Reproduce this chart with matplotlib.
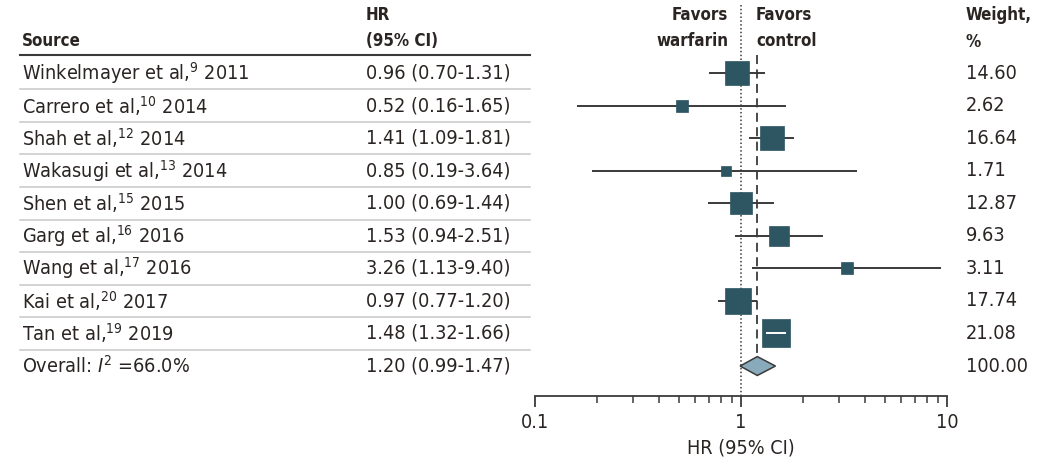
import matplotlib
matplotlib.use("Agg")
import matplotlib.pyplot as plt
import matplotlib.transforms as mtransforms
from matplotlib import font_manager
import numpy as np

# ---------------- data ----------------
sources = [r"Winkelmayer et al,$^{9}$ 2011", r"Carrero et al,$^{10}$ 2014",
           r"Shah et al,$^{12}$ 2014", r"Wakasugi et al,$^{13}$ 2014",
           r"Shen et al,$^{15}$ 2015", r"Garg et al,$^{16}$ 2016",
           r"Wang et al,$^{17}$ 2016", r"Kai et al,$^{20}$ 2017",
           r"Tan et al,$^{19}$ 2019"]
hr = [0.96, 0.52, 1.41, 0.85, 1.00, 1.53, 3.26, 0.97, 1.48]
lo = [0.70, 0.16, 1.09, 0.19, 0.69, 0.94, 1.13, 0.77, 1.32]
hi = [1.31, 1.65, 1.81, 3.64, 1.44, 2.51, 9.40, 1.20, 1.66]
weights = [14.60, 2.62, 16.64, 1.71, 12.87, 9.63, 3.11, 17.74, 21.08]
overall_label = r"Overall: $\mathit{I}^{2}$ =66.0%"
overall_hr, overall_lo, overall_hi = 1.20, 0.99, 1.47
overall_weight = 100.00
xticks = [0.1, 1, 10]
xticklabels = ["0.1", "1", "10"]

# ---------------- fonts ----------------
names = {f.name for f in font_manager.fontManager.ttflist}
STRETCH = "normal"
if "Liberation Sans Narrow" in names:
    FAM, FS, FSB = "Liberation Sans Narrow", 15, 15
else:
    FAM, FS, FSB = "DejaVu Sans", 13, 11.5
    cond = [f for f in font_manager.fontManager.ttflist
            if f.name == "DejaVu Sans" and "Condensed" in f.fname]
    if cond:
        STRETCH, FS, FSB = "condensed", 14.2, 12.2
plt.rcParams["font.family"] = [FAM, "DejaVu Sans"]
plt.rcParams["font.stretch"] = STRETCH
plt.rcParams["mathtext.fontset"] = "custom"
plt.rcParams["mathtext.rm"] = FAM
plt.rcParams["mathtext.it"] = FAM + ":italic"
plt.rcParams["mathtext.bf"] = FAM + ":bold"

TXT = "#2a2523"
SQ = "#2d5562"
DIA = "#88aabb"
LINE = "#3a3a3a"

W, H = 1053, 465
fig = plt.figure(figsize=(W / 100, H / 100), dpi=100)
x0, x1 = 535, 947
ybot = 396
ax = fig.add_axes([x0 / W, 1 - ybot / H, (x1 - x0) / W, ybot / H])
ax.set_xscale("log")
ax.set_xlim(0.1, 10)
row0, dy = 73, 32.56
top_d = -row0 / dy
bot_d = (ybot - row0) / dy
ax.set_ylim(bot_d, top_d)
for s in ["top", "left", "right"]:
    ax.spines[s].set_visible(False)
ax.spines["bottom"].set_color(LINE)
ax.spines["bottom"].set_linewidth(1.3)
ax.set_yticks([])
ax.set_xticks(xticks)
ax.set_xticklabels(xticklabels)
ax.xaxis.set_minor_locator(matplotlib.ticker.LogLocator(base=10, subs=np.arange(2, 10)))
ax.xaxis.set_minor_formatter(matplotlib.ticker.NullFormatter())
ax.tick_params(axis="x", which="major", length=8, width=1.3, color=LINE,
               labelsize=FS, labelcolor=TXT, pad=4)
ax.tick_params(axis="x", which="minor", length=5, width=1.1, color=LINE)
ax.set_xlabel("HR (95% CI)", fontsize=FS, color=TXT, labelpad=5)
ax.patch.set_visible(False)

n = len(sources)
ys = np.arange(n)
oy = n

# reference lines
ax.plot([1, 1], [top_d + 5 / dy, bot_d], ls=(0, (1, 1.5)), color=LINE, lw=1.1,
        clip_on=False, zorder=1)
ax.plot([overall_hr, overall_hr], [top_d + 55 / dy, oy - 0.3], ls=(0, (5, 3)),
        color=LINE, lw=1.3, zorder=1)

# CIs and squares
px_per_pt = 100 / 72
for i in range(n):
    ax.plot([lo[i], hi[i]], [ys[i], ys[i]], color=LINE, lw=1.4, zorder=2,
            solid_capstyle="butt")
    side_px = 3.2 + 5.2 * np.sqrt(weights[i])
    ax.plot([hr[i]], [ys[i]], marker="s", ms=side_px / px_per_pt, color=SQ,
            mec=SQ, mew=0.5, zorder=3)
    cx = ax.transData.transform((hr[i], 0))[0]
    lx = ax.transData.transform((lo[i], 0))[0]
    hx = ax.transData.transform((hi[i], 0))[0]
    if lx > cx - side_px / 2 and hx < cx + side_px / 2:
        ax.plot([lo[i], hi[i]], [ys[i], ys[i]], color="white", lw=1.4, zorder=4,
                solid_capstyle="butt")

# diamond
dh = 0.29
ax.fill([overall_lo, overall_hr, overall_hi, overall_hr, overall_lo],
        [oy, oy - dh, oy, oy + dh, oy], facecolor=DIA, edgecolor=LINE, lw=1.1,
        zorder=3)

# text columns
tr = mtransforms.blended_transform_factory(fig.transFigure, ax.transData)
xs, xh, xw = 22 / W, 366 / W, 966 / W
for i in range(n):
    fig.text(xs, ys[i], sources[i], transform=tr, fontsize=FS, color=TXT,
             va="center", ha="left")
    fig.text(xh, ys[i], f"{hr[i]:.2f} ({lo[i]:.2f}-{hi[i]:.2f})", transform=tr,
             fontsize=FS, color=TXT, va="center", ha="left")
    fig.text(xw, ys[i], f"{weights[i]:.2f}", transform=tr, fontsize=FS,
             color=TXT, va="center", ha="left")
fig.text(xs, oy, overall_label, transform=tr, fontsize=FS, color=TXT,
         va="center", ha="left")
fig.text(xh, oy, f"{overall_hr:.2f} ({overall_lo:.2f}-{overall_hi:.2f})",
         transform=tr, fontsize=FS, color=TXT, va="center", ha="left")
fig.text(xw, oy, f"{overall_weight:.2f}", transform=tr, fontsize=FS, color=TXT,
         va="center", ha="left")

# headers
def ypx(p):
    return 1 - p / H
hkw = dict(fontsize=FSB, color=TXT, fontweight="bold", va="center")
fig.text(xs, ypx(41), "Source", ha="left", **hkw)
fig.text(xh, ypx(15), "HR", ha="left", **hkw)
fig.text(xh, ypx(41), "(95% CI)", ha="left", **hkw)
fig.text(728 / W, ypx(15), "Favors", ha="right", **hkw)
fig.text(728 / W, ypx(41), "warfarin", ha="right", **hkw)
fig.text(756 / W, ypx(15), "Favors", ha="left", **hkw)
fig.text(756 / W, ypx(41), "control", ha="left", **hkw)
fig.text(xw, ypx(15), "Weight,", ha="left", **hkw)
fig.text(xw, ypx(42), "%", ha="left", **hkw)

# table rules
lx0, lx1 = 20 / W, 530 / W
fig.add_artist(plt.Line2D([lx0, lx1], [ypx(55), ypx(55)], color=LINE, lw=1.5))
for i in range(n):
    fig.add_artist(plt.Line2D([lx0, lx1], [i + 0.5, i + 0.5], color="#c8c8c8",
                              lw=1.1, transform=tr))

fig.savefig("out.png", dpi=100)
